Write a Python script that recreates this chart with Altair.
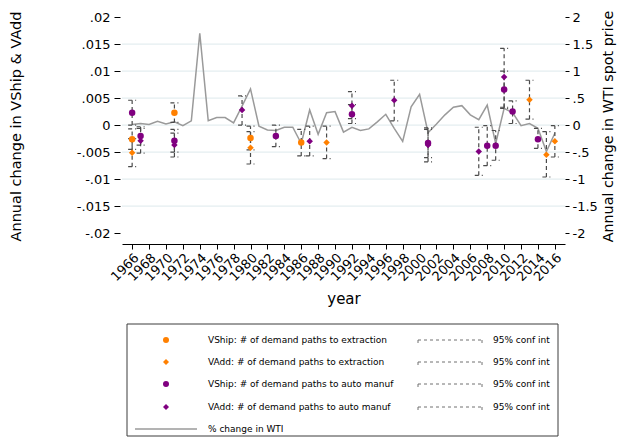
import altair as alt
import pandas as pd

FONT = "DejaVu Sans"

# ---------------- data ----------------
wti_years = list(range(1966, 2017))
wti_change = [0.01, 0.03, 0.01, 0.07, 0.02, 0.06, -0.01, 0.08, 1.70, 0.08,
              0.14, 0.14, 0.04, 0.35, 0.67, -0.02, -0.09, -0.10, -0.04, -0.04,
              -0.34, 0.28, -0.17, 0.23, 0.25, -0.13, -0.04, -0.10, -0.07, 0.06,
              0.20, -0.06, -0.30, 0.34, 0.57, -0.14, 0.02, 0.19, 0.33, 0.36,
              0.19, 0.10, 0.37, -0.34, 0.31, 0.23, -0.01, 0.03, -0.06, -0.49, -0.15]

vship_ext_years = [1966, 1971, 1980, 1986]
vship_ext_val = [-0.0026, 0.0023, -0.0024, -0.0032]
vship_ext_lo = [-0.0045, 0.0005, -0.0046, -0.0057]
vship_ext_hi = [-0.0007, 0.0041, -0.0002, -0.0008]

vadd_ext_years = [1966, 1980, 1989, 2013, 2015, 2016]
vadd_ext_val = [-0.0051, -0.0042, -0.0032, 0.0047, -0.0055, -0.0030]
vadd_ext_lo = [-0.0077, -0.0072, -0.0062, 0.0011, -0.0096, -0.0059]
vadd_ext_hi = [-0.0025, -0.0012, -0.0002, 0.0083, -0.0012, -0.0001]

vship_auto_years = [1966, 1967, 1971, 1983, 1992, 2001, 2008, 2009, 2010, 2011, 2014]
vship_auto_val = [0.0023, -0.0020, -0.0029, -0.0020, 0.0020, -0.0033, -0.0038, -0.0038, 0.0066, 0.0025, -0.0026]
vship_auto_lo = [0.0000, -0.0037, -0.0050, -0.0040, 0.0003, -0.0060, -0.0075, -0.0065, 0.0031, 0.0003, -0.0043]
vship_auto_hi = [0.0046, -0.0003, -0.0008, 0.0000, 0.0038, -0.0005, -0.0001, -0.0010, 0.0100, 0.0045, -0.0006]

vadd_auto_years = [1967, 1971, 1979, 1987, 1992, 1997, 2001, 2007, 2010]
vadd_auto_val = [-0.0029, -0.0037, 0.0028, -0.0030, 0.0036, 0.0046, -0.0037, -0.0049, 0.0089]
vadd_auto_lo = [-0.0052, -0.0059, 0.0000, -0.0057, 0.0012, 0.0008, -0.0068, -0.0093, 0.0033]
vadd_auto_hi = [-0.0006, -0.0015, 0.0054, -0.0002, 0.0062, 0.0083, -0.0008, -0.0004, 0.0142]

series_names = ["VShip extraction", "VAdd extraction", "VShip auto", "VAdd auto"]
series_labels = ["VShip: # of demand paths to extraction",
                 "VAdd: # of demand paths to extraction",
                 "VShip: # of demand paths to auto manuf",
                 "VAdd: # of demand paths to auto manuf"]
series_colors = ["#ff8000", "#ff8000", "#800080", "#800080"]
series_shapes = ["circle", "diamond", "circle", "diamond"]

tick_years = list(range(1966, 2017, 2))
left_ticks = [-0.02, -0.015, -0.01, -0.005, 0.0, 0.005, 0.01, 0.015, 0.02]
grid_vals = [-0.015, -0.01, -0.005, 0.0, 0.005, 0.01, 0.015]
right_ticks = [-2.0, -1.5, -1.0, -0.5, 0.0, 0.5, 1.0, 1.5, 2.0]

# ---------------- frames ----------------
frames = []
for name, yrs, v, lo, hi in [
    (series_names[0], vship_ext_years, vship_ext_val, vship_ext_lo, vship_ext_hi),
    (series_names[1], vadd_ext_years, vadd_ext_val, vadd_ext_lo, vadd_ext_hi),
    (series_names[2], vship_auto_years, vship_auto_val, vship_auto_lo, vship_auto_hi),
    (series_names[3], vadd_auto_years, vadd_auto_val, vadd_auto_lo, vadd_auto_hi),
]:
    frames.append(pd.DataFrame({"series": name, "year": yrs, "val": v, "lo": lo, "hi": hi}))
pts = pd.concat(frames, ignore_index=True)
wti_df = pd.DataFrame({"year": wti_years, "wti": wti_change})
grid_df = pd.DataFrame({"g": grid_vals})

color_scale = alt.Scale(domain=series_names, range=series_colors)
shape_scale = alt.Scale(domain=series_names, range=series_shapes)

CI_COLOR = "#4a4a4a"
WTI_COLOR = "#9a9a9a"

x_axis = alt.Axis(values=tick_years, format="d", labelAngle=315, labelAlign="right",
                  labelBaseline="top", labelOverlap=False, labelFlush=False, labelBound=False,
                  labelFont=FONT, labelFontSize=13, labelColor="black", labelPadding=2,
                  tickSize=5, tickColor="black", tickWidth=1, domainColor="black", domainWidth=1,
                  grid=False, title="year", titleFont=FONT, titleFontSize=15,
                  titleFontWeight="normal", titleColor="black", titlePadding=8)
x_enc = alt.X("year:Q", scale=alt.Scale(domain=[1964.8, 2017.2], nice=False, zero=False), axis=x_axis)

label_expr = "(datum.value < 0 ? '-' : '') + replace(format(abs(datum.value), '.3~f'), '0.', '.')"

y_left_scale = alt.Scale(domain=[-0.022, 0.02167], nice=False, zero=False)
y_left_axis = alt.Axis(values=left_ticks, labelExpr=label_expr, orient="left", domain=False,
                       grid=False, tickSize=6, tickColor="black", offset=2, labelPadding=4,
                       labelFont=FONT, labelFontSize=13, labelColor="black",
                       minExtent=50, maxExtent=50,
                       title="Annual change in VShip & VAdd", titleFont=FONT, titleFontSize=14.5,
                       titleFontWeight="normal", titleColor="black", titlePadding=47)

y_right_scale = alt.Scale(domain=[-2.2, 2.167], nice=False, zero=False)
y_right_axis = alt.Axis(values=right_ticks, labelExpr=label_expr, orient="right", domain=False,
                        grid=False, tickSize=4, tickColor="black", labelPadding=3,
                        labelFont=FONT, labelFontSize=13, labelColor="black",
                        minExtent=33, maxExtent=33,
                        title="Annual change in WTI spot price", titleAngle=270, titleBaseline="top",
                        titleFont=FONT, titleFontSize=14.3, titleFontWeight="normal",
                        titleColor="black", titlePadding=3)

grid = alt.Chart(grid_df).mark_rule(color="#e4eef0", strokeWidth=1.3).encode(
    y=alt.Y("g:Q", scale=y_left_scale, axis=None))

wti = alt.Chart(wti_df).mark_line(color=WTI_COLOR, strokeWidth=1.5).encode(
    x=x_enc, y=alt.Y("wti:Q", scale=y_right_scale, axis=y_right_axis))

ci = alt.Chart(pts).mark_rule(color=CI_COLOR, strokeWidth=1.2, strokeDash=[4, 3]).encode(
    x=x_enc, y=alt.Y("lo:Q", scale=y_left_scale, axis=y_left_axis), y2="hi:Q")

caps = alt.Chart(pts).transform_fold(["lo", "hi"], as_=["k", "v"]).mark_rule(
    color=CI_COLOR, strokeWidth=1.2, strokeDash=[4, 3], xOffset=-4, x2Offset=4).encode(
    x=x_enc, x2="year:Q", y=alt.Y("v:Q", scale=y_left_scale, axis=y_left_axis))

points = alt.Chart(pts).mark_point(filled=True, opacity=1, size=42).encode(
    x=x_enc, y=alt.Y("val:Q", scale=y_left_scale, axis=y_left_axis),
    color=alt.Color("series:N", scale=color_scale, legend=None),
    shape=alt.Shape("series:N", scale=shape_scale, legend=None))

left_group = alt.layer(ci, caps, points)
main = alt.layer(grid, wti, left_group).resolve_scale(y="independent").properties(width=443, height=236)

# ---------------- legend panel (aligned with the plot area's left edge) ----------------
LEG_W, LEG_H = 443, 113
leg_x = alt.Scale(domain=[0, LEG_W], nice=False, zero=False)
leg_y = alt.Scale(domain=[0, LEG_H], nice=False, zero=False, reverse=True)

leg_df = pd.DataFrame({"series": series_names, "label": series_labels,
                       "ry": [17, 39, 61, 84], "sx": 44, "tx": 86,
                       "c0": 296, "c1": 360, "ctx": 371})
box_df = pd.DataFrame({"x0": [5], "x1": [436], "y0": [1], "y1": [113]})
line_df = pd.DataFrame({"x0": [13], "x1": [75], "ry": [106], "tx": [86],
                        "label": ["% change in WTI"]})

box = alt.Chart(box_df).mark_rect(fill="white", stroke="#3c3c3c", strokeWidth=1).encode(
    x=alt.X("x0:Q", scale=leg_x, axis=None), x2="x1:Q",
    y=alt.Y("y0:Q", scale=leg_y, axis=None), y2="y1:Q")
lsym = alt.Chart(leg_df).mark_point(filled=True, opacity=1, size=36).encode(
    x=alt.X("sx:Q", scale=leg_x, axis=None), y=alt.Y("ry:Q", scale=leg_y, axis=None),
    color=alt.Color("series:N", scale=color_scale, legend=None),
    shape=alt.Shape("series:N", scale=shape_scale, legend=None))
ltxt = alt.Chart(leg_df).mark_text(align="left", baseline="middle", font=FONT, fontSize=9,
                                   color="black").encode(
    x=alt.X("tx:Q", scale=leg_x, axis=None), y=alt.Y("ry:Q", scale=leg_y, axis=None), text="label:N")
lci = alt.Chart(leg_df).mark_rule(color="#707070", strokeWidth=1, strokeDash=[3, 3]).encode(
    x=alt.X("c0:Q", scale=leg_x, axis=None), x2="c1:Q", y=alt.Y("ry:Q", scale=leg_y, axis=None))
lcap = alt.Chart(leg_df).transform_fold(["c0", "c1"], as_=["k", "cx"]).transform_calculate(
    ry2="datum.ry + 3").mark_rule(color="#707070", strokeWidth=1).encode(
    x=alt.X("cx:Q", scale=leg_x, axis=None), y=alt.Y("ry:Q", scale=leg_y, axis=None), y2="ry2:Q")
lcitxt = alt.Chart(leg_df).mark_text(align="left", baseline="middle", font=FONT, fontSize=9,
                                     color="black", text="95% conf int").encode(
    x=alt.X("ctx:Q", scale=leg_x, axis=None), y=alt.Y("ry:Q", scale=leg_y, axis=None))
lline = alt.Chart(line_df).mark_rule(color=WTI_COLOR, strokeWidth=1.5).encode(
    x=alt.X("x0:Q", scale=leg_x, axis=None), x2="x1:Q", y=alt.Y("ry:Q", scale=leg_y, axis=None))
lltxt = alt.Chart(line_df).mark_text(align="left", baseline="middle", font=FONT, fontSize=9,
                                     color="black").encode(
    x=alt.X("tx:Q", scale=leg_x, axis=None), y=alt.Y("ry:Q", scale=leg_y, axis=None), text="label:N")

legend = alt.layer(box, lsym, ltxt, lci, lcap, lcitxt, lline, lltxt).properties(width=LEG_W, height=LEG_H)

chart = alt.vconcat(main, legend, spacing=16).properties(
    padding={"left": 0, "top": 0, "right": 5, "bottom": 0}
).configure_view(stroke=None)

chart.save("out.html", embed_options={"renderer": "svg", "actions": False})
